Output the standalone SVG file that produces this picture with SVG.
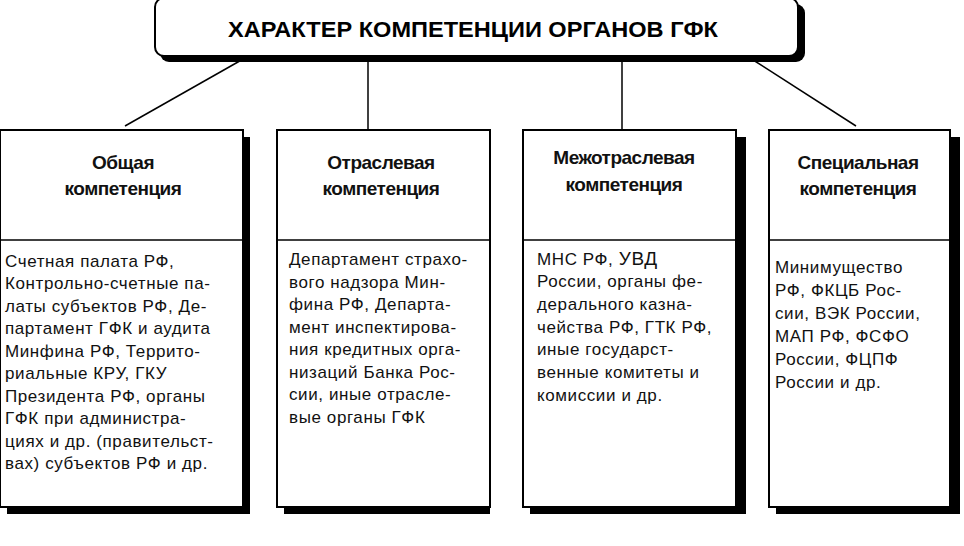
<svg xmlns="http://www.w3.org/2000/svg" width="964" height="546" viewBox="0 0 964 546">
<style>
.box{fill:#fff;stroke:#000;stroke-width:2}
.sh{fill:#000}
.h{font-family:"Liberation Sans Narrow","Liberation Sans",Arial,sans-serif;font-size:19px;font-weight:bold;text-anchor:middle;fill:#111;letter-spacing:-0.5px}
.t{font-family:"Liberation Sans","DejaVu Sans",sans-serif;font-size:17px;letter-spacing:0.6px;fill:#111}
.c{stroke:#000;stroke-width:1.5;fill:none}
</style>
<rect width="964" height="546" fill="#fff"/>
<g id="connectors">
<line class="c" x1="245" y1="58" x2="125" y2="126"/>
<line class="c" x1="368" y1="58" x2="368" y2="130"/>
<line class="c" x1="622" y1="58" x2="622" y2="130"/>
<line class="c" x1="750" y1="58" x2="856" y2="126"/>
</g>
<g id="title">
<rect class="sh" x="160" y="4" width="645" height="58" rx="9"/>
<rect class="box" x="155" y="-2" width="643" height="58" rx="9"/>
<text x="473" y="37" style="font-family:'Liberation Sans Narrow','Liberation Sans',sans-serif;font-size:22px;font-weight:bold;text-anchor:middle" textLength="490" lengthAdjust="spacingAndGlyphs">ХАРАКТЕР КОМПЕТЕНЦИИ ОРГАНОВ ГФК</text>
</g>
<g id="general">
<rect class="sh" x="7" y="137" width="243" height="377"/>
<rect class="box" x="0" y="130" width="243" height="377"/>
<line class="c" x1="0" y1="240" x2="243" y2="240"/>
<text class="h" x="123" y="169">Общая</text>
<text class="h" x="123" y="195">компетенция</text>
<text class="t" x="5" y="267">Счетная палата РФ,</text>
<text class="t" x="5" y="289">Контрольно-счетные па-</text>
<text class="t" x="5" y="312">латы субъектов РФ, Де-</text>
<text class="t" x="5" y="334">партамент ГФК и аудита</text>
<text class="t" x="5" y="357">Минфина РФ, Террито-</text>
<text class="t" x="5" y="379">риальные КРУ, ГКУ</text>
<text class="t" x="5" y="402">Президента РФ, органы</text>
<text class="t" x="5" y="424">ГФК при администра-</text>
<text class="t" x="5" y="447">циях и др. (правительст-</text>
<text class="t" x="5" y="469">вах) субъектов РФ и др.</text>
</g>
<g id="branch">
<rect class="sh" x="284" y="137" width="206" height="377"/>
<rect class="box" x="277" y="130" width="213" height="377"/>
<line class="c" x1="277" y1="240" x2="490" y2="240"/>
<text class="h" x="381" y="169">Отраслевая</text>
<text class="h" x="381" y="195">компетенция</text>
<text class="t" x="289" y="265">Департамент страхо-</text>
<text class="t" x="289" y="288">вого надзора Мин-</text>
<text class="t" x="289" y="310">фина РФ, Департа-</text>
<text class="t" x="289" y="333">мент инспектирова-</text>
<text class="t" x="289" y="355">ния кредитных орга-</text>
<text class="t" x="289" y="378">низаций Банка Рос-</text>
<text class="t" x="289" y="400">сии, иные отрасле-</text>
<text class="t" x="289" y="423">вые органы ГФК</text>
</g>
<g id="inter">
<rect class="sh" x="530" y="137" width="216" height="377"/>
<rect class="box" x="523" y="130" width="213" height="377"/>
<line class="c" x1="523" y1="240" x2="736" y2="240"/>
<text class="h" x="624" y="164">Межотраслевая</text>
<text class="h" x="624" y="191">компетенция</text>
<text class="t" x="537" y="265">МНС РФ, <tspan font-size="19">УВД</tspan></text>
<text class="t" x="537" y="287">России, органы фе-</text>
<text class="t" x="537" y="310">дерального казна-</text>
<text class="t" x="537" y="333">чейства РФ, ГТК РФ,</text>
<text class="t" x="537" y="355">иные государст-</text>
<text class="t" x="537" y="378">венные комитеты и</text>
<text class="t" x="537" y="401">комиссии и др.</text>
</g>
<g id="special">
<rect class="sh" x="776" y="137" width="184" height="377"/>
<rect class="box" x="769" y="130" width="181" height="377"/>
<line class="c" x1="769" y1="240" x2="950" y2="240"/>
<text class="h" x="858" y="169">Специальная</text>
<text class="h" x="858" y="195">компетенция</text>
<text class="t" x="775" y="273">Минимущество</text>
<text class="t" x="775" y="296">РФ, ФКЦБ Рос-</text>
<text class="t" x="775" y="319">сии, ВЭК России,</text>
<text class="t" x="775" y="342">МАП РФ, ФСФО</text>
<text class="t" x="775" y="365">России, ФЦПФ</text>
<text class="t" x="775" y="388">России и др.</text>
</g>
</svg>
